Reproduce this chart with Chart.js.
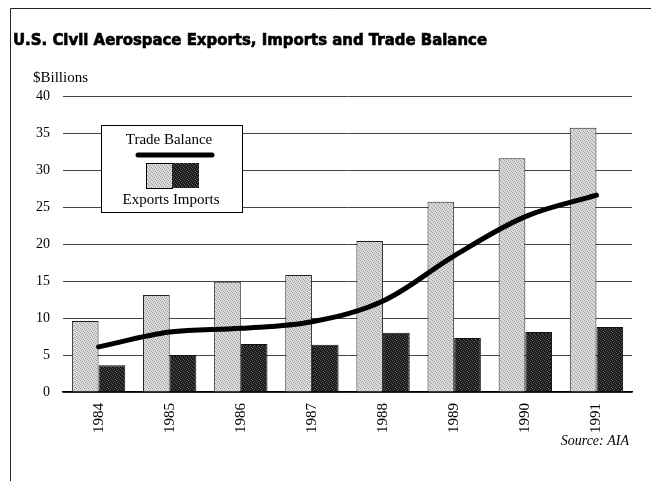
<!DOCTYPE html>
<html>
<head>
<meta charset="utf-8">
<title>U.S. Civil Aerospace Exports, Imports and Trade Balance</title>
<script src="https://cdn.jsdelivr.net/npm/chart.js@4/dist/chart.umd.min.js"></script>
<style>
    body { margin: 0; background: #fff; }
    #wrap { width: 651px; height: 481px; position: relative; }
</style>
</head>
<body>
<div id="wrap"><canvas id="chart" width="651" height="481"></canvas></div>
<script>
// Chart data ($ billions)
const years = ['1984', '1985', '1986', '1987', '1988', '1989', '1990', '1991'];
const exportsValues = [9.6, 13.1, 14.9, 15.8, 20.4, 25.7, 31.6, 35.7];
const importsValues = [3.6, 5.0, 6.5, 6.4, 8.0, 7.3, 8.1, 8.8];
const tradeBalanceValues = [6.1, 8.1, 8.6, 9.5, 12.3, 18.4, 23.7, 26.6];
const yTicks = [0, 5, 10, 15, 20, 25, 30, 35, 40];

const SERIF = '"Liberation Serif", "DejaVu Serif", serif';
const TITLE = 'U.S. Civil Aerospace Exports, Imports and Trade Balance';

// Small stipple fills to mimic the printed halftone
function makeStipple(light, dark) {
    const c = document.createElement('canvas');
    c.width = 4;
    c.height = 4;
    const g = c.getContext('2d');
    g.fillStyle = light;
    g.fillRect(0, 0, 4, 4);
    g.fillStyle = dark;
    [[0, 0], [2, 1], [1, 2], [3, 3]].forEach(([x, y]) => g.fillRect(x, y, 1, 1));
    return document.getElementById('chart').getContext('2d').createPattern(c, 'repeat');
}

const exportsFill = makeStipple('#dadada', '#a0a0a0');
const importsFill = makeStipple('#1a1a1a', '#5a5a5a');

// Title, unit label, source note, frame and the boxed legend
const decorations = {
    id: 'decorations',
    afterDraw(chart) {
        const ctx = chart.ctx;
        ctx.save();

        // frame
        ctx.strokeStyle = '#222';
        ctx.lineWidth = 1;
        ctx.beginPath();
        ctx.moveTo(10.5, 481);
        ctx.lineTo(10.5, 8.5);
        ctx.lineTo(651, 8.5);
        ctx.stroke();

        // title, stretched to the printed width and thickened a little
        ctx.fillStyle = '#000';
        ctx.strokeStyle = '#000';
        ctx.textBaseline = 'alphabetic';
        ctx.textAlign = 'left';
        ctx.font = 'bold 16px "DejaVu Sans", sans-serif';
        const w = ctx.measureText(TITLE).width;
        ctx.save();
        ctx.translate(13, 45);
        ctx.scale(474 / w, 1);
        ctx.lineWidth = 0.7;
        ctx.fillText(TITLE, 0, 0);
        ctx.strokeText(TITLE, 0, 0);
        ctx.restore();

        ctx.font = '15px ' + SERIF;
        ctx.fillText('$Billions', 33, 82);

        ctx.font = 'italic 14px ' + SERIF;
        ctx.textAlign = 'right';
        ctx.fillText('Source: AIA', 629, 445);

        // legend box
        ctx.fillStyle = '#fff';
        ctx.fillRect(101, 125, 141, 87);
        ctx.strokeStyle = '#000';
        ctx.lineWidth = 1;
        ctx.strokeRect(101.5, 125.5, 141, 87);

        ctx.fillStyle = '#000';
        ctx.textAlign = 'center';
        ctx.font = '15px ' + SERIF;
        ctx.fillText('Trade Balance', 169, 144);

        ctx.lineWidth = 5;
        ctx.lineCap = 'round';
        ctx.beginPath();
        ctx.moveTo(138, 155);
        ctx.lineTo(212, 155);
        ctx.stroke();

        ctx.lineWidth = 1;
        ctx.fillStyle = exportsFill;
        ctx.fillRect(146, 163, 26, 25);
        ctx.strokeRect(146.5, 163.5, 26, 25);
        ctx.fillStyle = importsFill;
        ctx.fillRect(172, 163, 27, 25);

        ctx.fillStyle = '#000';
        ctx.fillText('Exports Imports', 171, 204);

        ctx.restore();
    }
};

new Chart(document.getElementById('chart'), {
    type: 'bar',
    data: {
        labels: years,
        datasets: [
            {
                type: 'line',
                label: 'Trade Balance',
                data: tradeBalanceValues,
                borderColor: '#000',
                borderWidth: 5,
                borderCapStyle: 'round',
                tension: 0.35,
                pointRadius: 0,
                order: 0
            },
            {
                label: 'Exports',
                data: exportsValues,
                backgroundColor: exportsFill,
                borderColor: '#222',
                borderWidth: 1,
                categoryPercentage: 0.75,
                barPercentage: 1.0,
                order: 1
            },
            {
                label: 'Imports',
                data: importsValues,
                backgroundColor: importsFill,
                borderColor: '#111',
                borderWidth: 1,
                categoryPercentage: 0.75,
                barPercentage: 1.0,
                order: 1
            }
        ]
    },
    options: {
        responsive: false,
        animation: false,
        layout: {
            padding: { top: 96, right: 19, left: 0, bottom: 0 }
        },
        plugins: {
            legend: { display: false },
            tooltip: { enabled: false },
            title: { display: false }
        },
        scales: {
            x: {
                grid: { display: false, drawTicks: false },
                border: { display: true, color: '#000', width: 1.5 },
                ticks: {
                    color: '#000',
                    font: { family: SERIF, size: 15 },
                    minRotation: 90,
                    maxRotation: 90,
                    padding: 11
                },
                afterFit(scale) {
                    scale.height = 89;
                }
            },
            y: {
                min: 0,
                max: 40,
                border: { display: false },
                grid: {
                    color: '#444',
                    lineWidth: 1,
                    drawTicks: false
                },
                afterBuildTicks(scale) {
                    scale.ticks = yTicks.map(v => ({ value: v }));
                },
                ticks: {
                    color: '#000',
                    font: { family: SERIF, size: 14 },
                    padding: 13
                },
                afterFit(scale) {
                    scale.width = 63;
                }
            }
        }
    },
    plugins: [decorations]
});
</script>
</body>
</html>
